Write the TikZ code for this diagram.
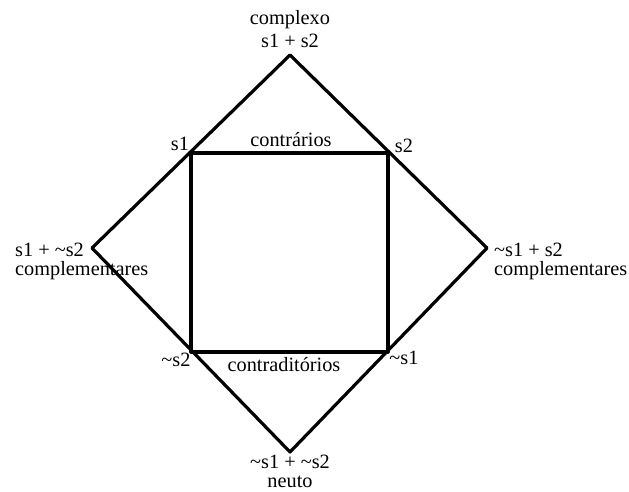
\documentclass[tikz,border=0pt]{standalone}
\usepackage{fontspec}
\setmainfont{Liberation Serif}
\usepackage{tikz}
\usetikzlibrary{positioning}

\begin{document}
\begin{tikzpicture}[
  x=1pt,y=-1pt,
  font=\fontsize{20.3}{21}\selectfont,
  edge/.style={draw=black,line width=3.2pt,line join=round},
  lbl/.style={inner sep=0pt,anchor=center},
  lftlbl/.style={inner sep=0pt,anchor=west,align=left}
]
\useasboundingbox (0,0) rectangle (629,492);
% vertices of the outer diamond
\coordinate (top) at (290,55);
\coordinate (lft) at (92,248);
\coordinate (rgt) at (487,248);
\coordinate (bot) at (290,452);
% corners of the square
\coordinate (s1) at (191,153);
\coordinate (s2) at (388,153);
\coordinate (ns1) at (388,352);
\coordinate (ns2) at (191,352);
\draw[edge] (top) -- (rgt) -- (bot) -- (lft) -- cycle;
\draw[edge] (s1) -- (s2) -- (ns1) -- (ns2) -- cycle;
% labels
\node[lbl] (complexo) at (290,20) {complexo};
\node[lbl] (complexoF) at (290,41) {s1 + s2};
\node[lbl] (s1l) at (180,144) {s1};
\node[lbl] (s2l) at (404,146) {s2};
\node[lbl] (contr) at (291,140) {contrários};
\node[lftlbl] (cmpLa) at (15,250) {s1 + \textasciitilde s2};
\node[lftlbl] (cmpLb) at (15,271) {complementares};
\node[lftlbl] (cmpRa) at (494,250) {\textasciitilde s1 + s2};
\node[lftlbl] (cmpRb) at (494,271) {complementares};
\node[lbl] (ns2l) at (176,360) {\textasciitilde s2};
\node[lbl] (ns1l) at (404,358) {\textasciitilde s1};
\node[lbl] (contrad) at (284,365) {contraditórios};
\node[lbl] (neutoF) at (290,462) {\textasciitilde s1 + \textasciitilde s2};
\node[lbl] (neuto) at (290,482) {neuto};
\end{tikzpicture}
\end{document}
